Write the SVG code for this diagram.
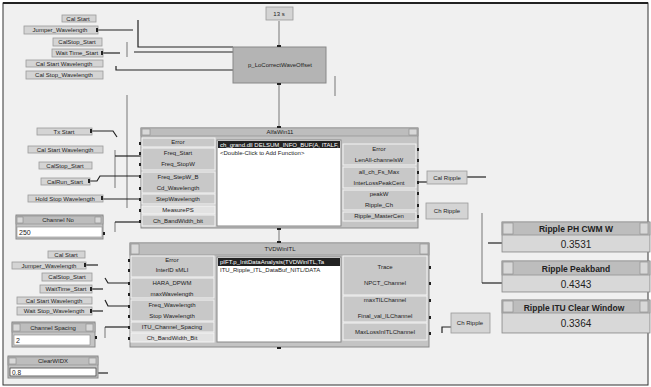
<svg xmlns="http://www.w3.org/2000/svg" width="651" height="387" viewBox="0 0 651 387">
<style>
text{font-family:"Liberation Sans",Arial,sans-serif;fill:#222;}
.c{fill:#d4d4d4;stroke:#9a9a9a;stroke-width:0.8}
.ct{font-size:6px;text-anchor:middle}
.col{fill:#c8c8c8;stroke:#f4f4f4;stroke-width:1}
.lt{fill:#e2e2e2;stroke:#f4f4f4;stroke-width:1}
.pt{font-size:6px;text-anchor:middle}
.win{fill:#c4c4c4;stroke:#8a8a8a;stroke-width:1}
.bar{fill:#bdbdbd;stroke:#8a8a8a;stroke-width:0.6}
.btn{fill:#d8d8d8;stroke:#888;stroke-width:0.6}
.lst{fill:#fff;stroke:#888;stroke-width:1}
.w{fill:none;stroke:#222;stroke-width:1.2}
.wl{fill:none;stroke:#777;stroke-width:1}
.term{fill:#222}
.tt{font-size:7px;text-anchor:middle}
.disp{fill:#d0d0d0;stroke:#8a8a8a;stroke-width:0.8}
.dt{font-size:8.5px;text-anchor:middle;font-weight:bold}
.dv{font-size:10px;text-anchor:middle}
</style>
<rect x="3" y="3" width="645" height="382" fill="#f0f0f0" stroke="#333" stroke-width="1"/>
<line x1="3" y1="3" x2="648" y2="3" stroke="#222" stroke-width="2"/>

<g id="connectors">
<polyline class="w" points="98,30 133,30"/>
<polyline class="w" points="138,20 138,47 233,47"/>
<polyline class="w" points="103,53 120,53"/>
<polyline class="wl" points="127,42 127,57"/>
<polyline class="w" points="134,52 233,52"/>
<polyline class="w" points="116,66 116,70 233,70"/>
<polyline class="wl" points="279,21 279,47"/>
<polyline class="wl" points="279,83 279,128"/>
<polyline class="wl" points="279,228 279,243"/>
<polyline class="wl" points="335,76 335,96"/>
<polyline class="wl" points="127,95 127,208"/>
<polyline class="w" points="92,131 113,131 117,137"/>
<polyline class="wl" points="115,150 115,188"/>
<polyline class="w" points="115,156 141,156"/>
<polyline class="w" points="90,181 97,181 100,176 141,176"/>
<polyline class="w" points="103,199 141,199"/>
<polyline class="wl" points="115,232 115,222"/>
<polyline class="w" points="115,222 141,222"/>
<polyline class="w" points="417,182 427,182"/>
<polyline class="w" points="467,177 486,177"/>
<polyline class="wl" points="482,213 482,283"/>
<polyline class="w" points="482,283 502,283"/>
<polyline class="w" points="488,243 502,243"/>
<polyline class="w" points="442,333 442,327 451,327"/>
<polyline class="w" points="86,265 98,265"/>
<polyline class="w" points="92,289 103,289"/>
<polyline class="w" points="92,311 103,311"/>
<polyline class="w" points="105,278 108,283 130,283"/>
<polyline class="w" points="105,300 108,306 130,306"/>
<polyline class="wl" points="105,338 105,327"/>
<polyline class="w" points="105,327 130,327"/>
<polyline class="w" points="98,373 108,373"/>
</g>

<g id="c1_cal_start"><rect class="c" x="62" y="15" width="34" height="7"/><text class="ct" x="78" y="21">Cal Start</text></g>
<g id="c1_jumper"><rect class="c" x="24" y="26" width="74" height="8"/><text class="ct" x="60" y="32">Jumper_Wavelength</text><rect class="term" x="96" y="28" width="2" height="4"/></g>
<g id="c1_calstop"><rect class="c" x="53" y="38" width="49" height="8"/><text class="ct" x="77" y="44">CalStop_Start</text></g>
<g id="c1_wait"><rect class="c" x="52" y="49" width="51" height="8"/><text class="ct" x="77" y="55">Wait Time_Start</text><rect class="term" x="101" y="51" width="2" height="4"/></g>
<g id="c1_calstartwl"><rect class="c" x="26" y="60" width="77" height="7"/><text class="ct" x="64" y="66">Cal Start Wavelength</text></g>
<g id="c1_calstopwl"><rect class="c" x="26" y="71" width="77" height="8"/><text class="ct" x="64" y="77">Cal Stop_Wavelength</text></g>

<g id="n_13s"><rect class="c" x="266" y="7" width="27" height="13"/><text class="ct" x="279" y="16">13 s</text></g>
<g id="n_correct"><rect x="233" y="47" width="93" height="36" fill="#b4b4b4" stroke="#888"/><text class="ct" x="280" y="67">p_LoCorrectWaveOffset</text><rect class="term" x="277" y="45" width="4" height="2"/><rect class="term" x="277" y="83" width="4" height="2"/></g>

<g id="c2_tx"><rect class="c" x="37" y="128" width="55" height="7"/><text class="ct" x="64" y="134">Tx Start</text><rect class="term" x="90" y="129" width="2" height="4"/></g>
<g id="c2_calstartwl"><rect class="c" x="28" y="146" width="75" height="7"/><text class="ct" x="65" y="152">Cal Start Wavelength</text></g>
<g id="c2_calstop"><rect class="c" x="39" y="162" width="53" height="7"/><text class="ct" x="65" y="168">CalStop_Start</text></g>
<g id="c2_calrun"><rect class="c" x="41" y="178" width="49" height="7"/><text class="ct" x="65" y="184">CalRun_Start</text><rect class="term" x="88" y="179" width="2" height="4"/></g>
<g id="c2_hold"><rect class="c" x="28" y="195" width="75" height="7"/><text class="ct" x="65" y="201">Hold Stop Wavelength</text><rect class="term" x="101" y="196" width="2" height="4"/></g>

<g id="n_alfawin">
<rect class="win" x="141" y="128" width="277" height="100"/>
<rect class="bar" x="141" y="128" width="277" height="8"/>
<rect class="btn" x="142" y="129" width="8" height="6"/><rect class="btn" x="409" y="129" width="8" height="6"/>
<text class="pt" x="280" y="134">AlfaWin11</text>
<rect class="col" x="142" y="138" width="73" height="9"/><text class="pt" x="178" y="144">Error</text>
<rect class="col" x="142" y="148" width="73" height="22"/><text class="pt" x="178" y="155">Freq_Start</text><text class="pt" x="178" y="166">Freq_StopW</text>
<rect class="col" x="142" y="172" width="73" height="21"/><text class="pt" x="178" y="179">Freq_StepW_B</text><text class="pt" x="178" y="190">Cd_Wavelength</text>
<rect class="col" x="142" y="194" width="73" height="10"/><text class="pt" x="178" y="201">StepWavelength</text>
<rect class="lt" x="142" y="206" width="73" height="8"/><text class="pt" x="178" y="212">MeasurePS</text>
<rect class="col" x="142" y="215" width="73" height="11"/><text class="pt" x="178" y="223">Ch_BandWidth_bit</text>
<rect class="lst" x="217" y="140" width="124" height="86"/>
<rect x="218" y="141" width="122" height="7" fill="#222"/>
<text x="220" y="147" style="font-size:6px;fill:#fff">ch_grand.dll DELSUM_INFO_BUF(A, ITALF,</text>
<text x="220" y="155" style="font-size:6px">&lt;Double-Click to Add Function&gt;</text>
<rect class="col" x="343" y="144" width="73" height="21"/><text class="pt" x="379" y="151">Error</text><text class="pt" x="379" y="162">LenAll-channelsW</text>
<rect class="col" x="343" y="167" width="73" height="21"/><text class="pt" x="379" y="174">all_ch_Fs_Max</text><text class="pt" x="379" y="185">InterLossPeakCent</text>
<rect class="col" x="343" y="190" width="73" height="20"/><text class="pt" x="379" y="196">peakW</text><text class="pt" x="379" y="207">Ripple_Ch</text>
<rect class="col" x="343" y="212" width="73" height="9"/><text class="pt" x="379" y="218">Ripple_MasterCen</text>
<g class="term">
<rect x="139" y="142" width="2" height="3"/><rect x="139" y="152" width="2" height="3"/><rect x="139" y="163" width="2" height="3"/><rect x="139" y="175" width="2" height="3"/><rect x="139" y="187" width="2" height="3"/><rect x="139" y="198" width="2" height="3"/><rect x="139" y="209" width="2" height="3"/><rect x="139" y="220" width="2" height="3"/>
<rect x="417" y="148" width="2" height="3"/><rect x="417" y="159" width="2" height="3"/><rect x="417" y="171" width="2" height="3"/><rect x="417" y="181" width="2" height="3"/><rect x="417" y="192" width="2" height="3"/><rect x="417" y="204" width="2" height="3"/><rect x="417" y="215" width="2" height="3"/>
<rect x="277" y="126" width="4" height="2"/><rect x="277" y="228" width="4" height="2"/>
</g>
</g>

<g id="n_ripple_a"><rect class="c" x="427" y="171" width="40" height="13"/><text class="ct" x="447" y="180">Cal Ripple</text></g>
<g id="n_ripple_b"><rect class="c" x="426" y="203" width="42" height="16"/><text class="ct" x="447" y="213">Ch Ripple</text></g>
<g id="n_ripple_c"><rect class="c" x="451" y="313" width="39" height="20"/><text class="ct" x="470" y="325">Ch Ripple</text></g>

<g id="d_phcwm">
<rect class="disp" x="502" y="222" width="148" height="30"/>
<rect class="bar" x="502" y="222" width="148" height="13"/>
<rect class="btn" x="503" y="223" width="10" height="11"/><rect class="btn" x="640" y="223" width="8" height="11"/>
<text class="dt" x="576" y="232">Ripple PH CWM W</text>
<rect x="503" y="236" width="146" height="15" fill="#d8d8d8"/>
<text class="dv" x="576" y="248">0.3531</text>
</g>
<g id="d_peak">
<rect class="disp" x="502" y="261" width="148" height="31"/>
<rect class="bar" x="502" y="261" width="148" height="14"/>
<rect class="btn" x="503" y="262" width="10" height="12"/><rect class="btn" x="640" y="262" width="8" height="12"/>
<text class="dt" x="576" y="272">Ripple Peakband</text>
<rect x="503" y="276" width="146" height="15" fill="#d8d8d8"/>
<text class="dv" x="576" y="288">0.4343</text>
</g>
<g id="d_itu">
<rect class="disp" x="502" y="300" width="148" height="33"/>
<rect class="bar" x="502" y="300" width="148" height="13"/>
<rect class="btn" x="503" y="301" width="10" height="11"/><rect class="btn" x="640" y="301" width="8" height="11"/>
<text class="dt" x="574" y="311">Ripple ITU Clear Window</text>
<rect x="503" y="314" width="146" height="18" fill="#d8d8d8"/>
<text class="dv" x="576" y="327">0.3364</text>
</g>

<g id="n_tvdwin">
<rect class="win" x="130" y="243" width="299" height="104"/>
<rect class="bar" x="130" y="243" width="299" height="12"/>
<rect class="btn" x="131" y="244" width="8" height="10"/><rect class="btn" x="420" y="244" width="8" height="10"/>
<text class="pt" x="280" y="251">TVDWinITL</text>
<rect class="col" x="131" y="256" width="83" height="21"/><text class="pt" x="172" y="262">Error</text><text class="pt" x="172" y="272">InterID sMLI</text>
<rect class="col" x="131" y="278" width="83" height="20"/><text class="pt" x="172" y="285">HARA_DPWM</text><text class="pt" x="172" y="296">maxWavelength</text>
<rect class="col" x="131" y="300" width="83" height="21"/><text class="pt" x="172" y="307">Freq_Wavelength</text><text class="pt" x="172" y="318">Stop Wavelength</text>
<rect class="col" x="131" y="322" width="83" height="10"/><text class="pt" x="172" y="329">ITU_Channel_Spacing</text>
<rect class="lt" x="131" y="333" width="83" height="9"/><text class="pt" x="172" y="340">Ch_BandWidth_Bit</text>
<rect class="lst" x="217" y="257" width="124" height="85"/>
<rect x="218" y="258" width="122" height="8" fill="#222"/>
<text x="220" y="264" style="font-size:6px;fill:#fff">pIFT.p_InitDataAnalysis(TVDWinITL,Ta</text>
<text x="220" y="272" style="font-size:6px">ITU_Ripple_ITL_DataBuf_NITL/DATA</text>
<rect class="col" x="343" y="256" width="84" height="39"/><text class="pt" x="385" y="269">Trace</text><text class="pt" x="385" y="285">NPCT_Channel</text>
<rect class="col" x="343" y="296" width="84" height="26"/><text class="pt" x="385" y="302">maxTILChannel</text><text class="pt" x="385" y="318">Final_val_ILChannel</text>
<rect class="col" x="343" y="323" width="84" height="17"/><text class="pt" x="385" y="334">MaxLossInITLChannel</text>
<g class="term">
<rect x="128" y="259" width="2" height="3"/><rect x="128" y="269" width="2" height="3"/><rect x="128" y="282" width="2" height="3"/><rect x="128" y="293" width="2" height="3"/><rect x="128" y="305" width="2" height="3"/><rect x="128" y="315" width="2" height="3"/><rect x="128" y="326" width="2" height="3"/><rect x="128" y="337" width="2" height="3"/>
<rect x="429" y="266" width="2" height="3"/><rect x="429" y="282" width="2" height="3"/><rect x="429" y="299" width="2" height="3"/><rect x="429" y="316" width="2" height="3"/><rect x="429" y="332" width="2" height="3"/>
<rect x="277" y="241" width="4" height="2"/><rect x="277" y="347" width="4" height="2"/>
</g>
</g>

<g id="n_channel_no">
<rect class="win" x="16" y="215" width="87" height="24"/>
<rect class="bar" x="16" y="216" width="87" height="8"/>
<rect class="btn" x="17" y="217" width="6" height="6"/><rect class="btn" x="95" y="217" width="6" height="6"/>
<text class="pt" x="58" y="222">Channel No</text>
<rect x="17" y="227" width="85" height="10" fill="#fff" stroke="#888" stroke-width="0.6"/>
<text x="19" y="235" style="font-size:7px">250</text>
<rect class="term" x="103" y="232" width="2" height="3"/>
</g>

<g id="c3_cal_start"><rect class="c" x="48" y="251" width="37" height="7"/><text class="ct" x="66" y="257">Cal Start</text></g>
<g id="c3_jumper"><rect class="c" x="12" y="262" width="74" height="7"/><text class="ct" x="49" y="268">Jumper_Wavelength</text><rect class="term" x="84" y="263" width="2" height="4"/></g>
<g id="c3_calstop"><rect class="c" x="42" y="273" width="50" height="8"/><text class="ct" x="67" y="279">CalStop_Start</text></g>
<g id="c3_wait"><rect class="c" x="40" y="285" width="52" height="8"/><text class="ct" x="66" y="291">WaitTime_Start</text><rect class="term" x="90" y="287" width="2" height="4"/></g>
<g id="c3_calstartwl"><rect class="c" x="17" y="297" width="75" height="7"/><text class="ct" x="54" y="303">Cal Start Wavelength</text></g>
<g id="c3_waitstop"><rect class="c" x="17" y="307" width="75" height="8"/><text class="ct" x="54" y="313">Wait Stop_Wavelength</text><rect class="term" x="90" y="309" width="2" height="4"/></g>

<g id="n_channel_spacing">
<rect class="win" x="12" y="322" width="83" height="25"/>
<rect class="bar" x="12" y="323" width="83" height="9"/>
<rect class="btn" x="13" y="324" width="7" height="7"/><rect class="btn" x="86" y="324" width="7" height="7"/>
<text class="pt" x="53" y="330">Channel Spacing</text>
<rect x="14" y="335" width="76" height="10" fill="#fff" stroke="#888" stroke-width="0.6"/>
<text x="16" y="343" style="font-size:7px">2</text>
<rect class="term" x="95" y="336" width="2" height="3"/>
</g>

<g id="n_clearwidx">
<rect class="win" x="8" y="356" width="90" height="22"/>
<rect class="bar" x="8" y="357" width="90" height="8"/>
<rect class="btn" x="9" y="358" width="7" height="6"/><rect class="btn" x="89" y="358" width="7" height="6"/>
<text class="pt" x="53" y="363">ClearWIDX</text>
<rect x="10" y="368" width="86" height="8" fill="#fff" stroke="#444" stroke-width="0.8"/>
<text x="12" y="375" style="font-size:6.5px">0.8</text>
</g>
</svg>
